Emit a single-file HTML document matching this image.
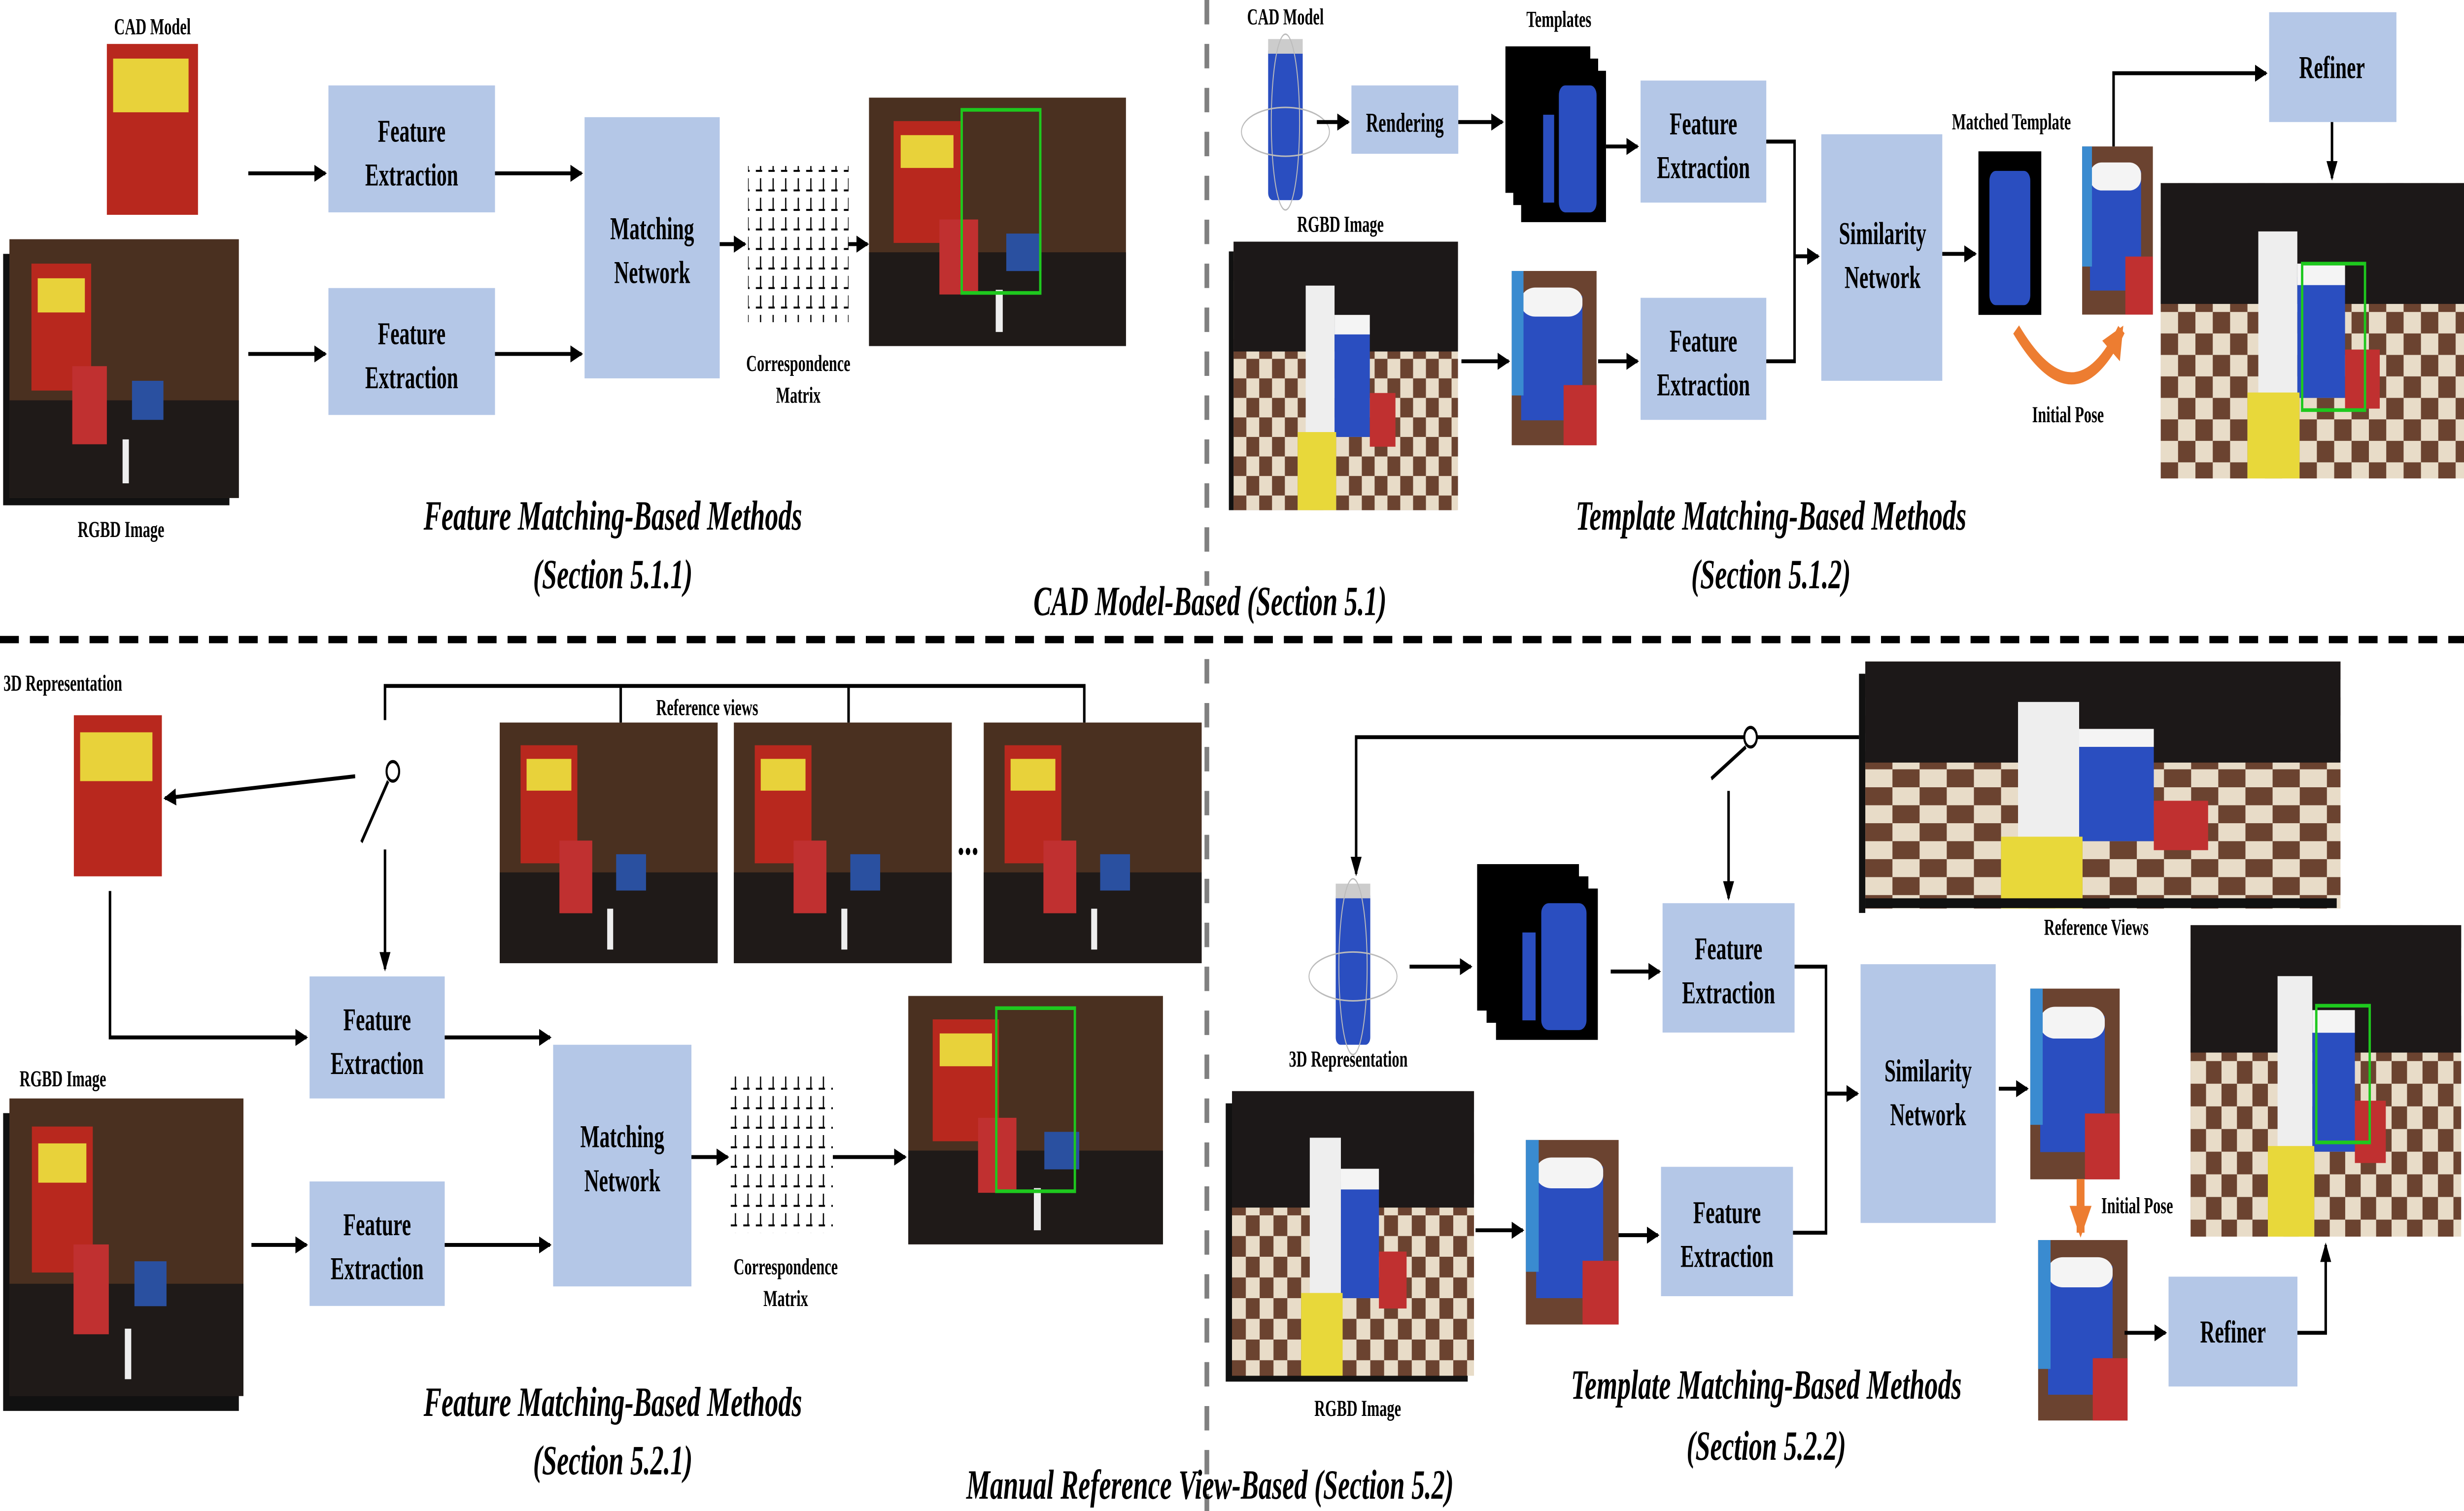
<!DOCTYPE html>
<html><head><meta charset="utf-8"><style>
html,body{margin:0;padding:0;background:#fff;width:100vw;height:100vh;overflow:hidden;}
svg{display:block;width:100vw;height:100vh}
text{font-family:"Liberation Serif",serif;font-weight:bold;fill:#000}
.b{fill:#b4c7e7}
.bt{font-size:13px;text-anchor:middle}
.lb{font-size:9.5px;text-anchor:middle}
.cap{font-size:17px;font-style:italic;text-anchor:middle}
.ln{stroke:#000;stroke-width:1.6;fill:none}
</style></head><body>
<svg viewBox="0 0 1568 619" preserveAspectRatio="none" xmlns="http://www.w3.org/2000/svg">
<defs>
<marker id="a" markerWidth="8" markerHeight="8" refX="7" refY="4" orient="auto" markerUnits="userSpaceOnUse"><path d="M0,0.5 L8,4 L0,7.5 Z" fill="#000"/></marker>
<marker id="o" markerWidth="14" markerHeight="14" refX="11" refY="7" orient="auto" markerUnits="userSpaceOnUse"><path d="M0,0 L13,7 L0,14 Z" fill="#ed7d31"/></marker>
<pattern id="chk" width="16" height="16" patternUnits="userSpaceOnUse"><rect width="16" height="16" fill="#6b4330"/><rect width="8" height="8" fill="#e8dcc8"/><rect x="8" y="8" width="8" height="8" fill="#e8dcc8"/></pattern>
<pattern id="grid" width="8" height="8" patternUnits="userSpaceOnUse"><path d="M4,1 V6 M1,6 H5" stroke="#000" stroke-width="0.8" fill="none"/></pattern>
<g id="scene">
<rect x="0" y="0" width="140" height="110" fill="url(#chk)"/><rect x="0" y="0" width="140" height="45" fill="#1c1818"/>
<rect x="45" y="18" width="18" height="62" fill="#eee"/><rect x="63" y="35" width="22" height="45" fill="#2a4ec0"/><rect x="63" y="30" width="22" height="8" fill="#f4f4f4"/><rect x="40" y="78" width="24" height="32" fill="#e8d83a"/><rect x="85" y="62" width="16" height="22" fill="#c03030"/>
</g>
<g id="cheez">
<rect x="0" y="0" width="146" height="106" fill="#4a3020"/><rect x="0" y="66" width="146" height="40" fill="#1f1a18"/>
<rect x="14" y="10" width="38" height="52" fill="#b8281e"/><rect x="18" y="16" width="30" height="14" fill="#e8d23a"/><rect x="40" y="52" width="22" height="32" fill="#c03030"/><rect x="78" y="58" width="20" height="16" fill="#2a50a0"/><rect x="72" y="82" width="4" height="18" fill="#eee"/>
</g>
<g id="can"><rect x="-11" y="-32" width="22" height="64" fill="#2a4ec0" rx="3"/><rect x="-11" y="-34" width="22" height="6" fill="#ccc"/><ellipse cx="0" cy="4" rx="28" ry="10" fill="none" stroke="#bbb" stroke-width="0.6"/><ellipse cx="0" cy="0" rx="9" ry="36" fill="none" stroke="#bbb" stroke-width="0.6"/></g>
<g id="tmpl"><rect x="0" y="0" width="54" height="60" fill="#000"/><rect x="5" y="5" width="54" height="60" fill="#000"/><rect x="10" y="10" width="54" height="62" fill="#000"/><rect x="34" y="16" width="24" height="52" fill="#2a4ec0" rx="4"/><rect x="24" y="28" width="7" height="36" fill="#2a4ec0"/></g>
<g id="crop"><rect x="0" y="0" width="36" height="84" fill="#6b4330"/><rect x="4" y="12" width="26" height="60" fill="#2a4ec0"/><rect x="4" y="8" width="26" height="14" fill="#f4f4f4" rx="6"/><rect x="22" y="55" width="14" height="29" fill="#c03030"/><rect x="0" y="0" width="5" height="60" fill="#3a8bd0"/></g>
</defs>

<line x1="768" y1="0" x2="768" y2="240" stroke="#808080" stroke-width="3" stroke-dasharray="10,8"/>
<line x1="768" y1="270" x2="768" y2="619" stroke="#808080" stroke-width="3" stroke-dasharray="10,8"/>
<line x1="0" y1="262" x2="1568" y2="262" stroke="#000" stroke-width="3" stroke-dasharray="12,7"/>

<!-- TOP LEFT -->
<text x="97" y="14" class="lb">CAD Model</text>
<rect x="68" y="18" width="58" height="70" fill="#b8281e"/><rect x="72" y="24" width="48" height="22" fill="#e8d23a"/>
<rect x="2" y="104" width="144" height="103" fill="#111"/>
<use href="#cheez" x="6" y="98"/>
<text x="77" y="220" class="lb">RGBD Image</text>
<line class="ln" x1="158" y1="71" x2="207" y2="71" marker-end="url(#a)"/>
<line class="ln" x1="158" y1="145" x2="207" y2="145" marker-end="url(#a)"/>
<rect class="b" x="209" y="35" width="106" height="52"/><text class="bt" x="262" y="58">Feature</text><text class="bt" x="262" y="76">Extraction</text>
<rect class="b" x="209" y="118" width="106" height="52"/><text class="bt" x="262" y="141">Feature</text><text class="bt" x="262" y="159">Extraction</text>
<line class="ln" x1="315" y1="71" x2="370" y2="71" marker-end="url(#a)"/>
<line class="ln" x1="315" y1="145" x2="370" y2="145" marker-end="url(#a)"/>
<rect class="b" x="372" y="48" width="86" height="107"/><text class="bt" x="415" y="98">Matching</text><text class="bt" x="415" y="116">Network</text>
<line class="ln" x1="458" y1="100" x2="474" y2="100" marker-end="url(#a)"/>
<rect x="476" y="68" width="64" height="64" fill="url(#grid)"/>
<text x="508" y="152" class="lb">Correspondence</text><text x="508" y="165" class="lb">Matrix</text>
<line class="ln" x1="540" y1="100" x2="552" y2="100" marker-end="url(#a)"/>
<use href="#cheez" transform="translate(553,40) scale(1.12,0.96)"/>
<rect x="612" y="45" width="50" height="75" fill="none" stroke="#1ec81e" stroke-width="1.5"/>
<text x="390" y="217" class="cap">Feature Matching-Based Methods</text>
<text x="390" y="241" class="cap">(Section 5.1.1)</text>
<text x="770" y="252" class="cap">CAD Model-Based (Section 5.1)</text>

<!-- TOP RIGHT -->
<text x="818" y="10" class="lb">CAD Model</text>
<use href="#can" x="818" y="50"/>
<line class="ln" x1="838" y1="50" x2="858" y2="50" marker-end="url(#a)"/>
<rect class="b" x="860" y="35" width="68" height="28"/><text class="bt" x="894" y="54" style="font-size:11px">Rendering</text>
<line class="ln" x1="928" y1="50" x2="956" y2="50" marker-end="url(#a)"/>
<use href="#tmpl" x="958" y="19"/>
<text x="992" y="11" class="lb">Templates</text>
<line class="ln" x1="1022" y1="60" x2="1042" y2="60" marker-end="url(#a)"/>
<rect class="b" x="1044" y="33" width="80" height="50"/><text class="bt" x="1084" y="55">Feature</text><text class="bt" x="1084" y="73">Extraction</text>
<text x="853" y="95" class="lb">RGBD Image</text>
<rect x="782" y="103" width="145" height="106" fill="#111"/>
<g transform="translate(785,99) scale(1.02,1.0)"><use href="#scene"/></g>
<line class="ln" x1="930" y1="148" x2="960" y2="148" marker-end="url(#a)"/>
<use href="#crop" transform="translate(962,111) scale(1.5,0.85)"/>
<line class="ln" x1="1017" y1="148" x2="1042" y2="148" marker-end="url(#a)"/>
<rect class="b" x="1044" y="122" width="80" height="50"/><text class="bt" x="1084" y="144">Feature</text><text class="bt" x="1084" y="162">Extraction</text>
<path class="ln" d="M1124,58 H1142 V148 H1124"/>
<line class="ln" x1="1142" y1="105" x2="1157" y2="105" marker-end="url(#a)"/>
<rect class="b" x="1159" y="55" width="77" height="101"/><text class="bt" x="1198" y="100">Similarity</text><text class="bt" x="1198" y="118">Network</text>
<line class="ln" x1="1236" y1="104" x2="1257" y2="104" marker-end="url(#a)"/>
<text x="1280" y="53" class="lb">Matched Template</text>
<rect x="1259" y="62" width="40" height="67" fill="#000"/><rect x="1266" y="70" width="26" height="55" fill="#2a4ec0" rx="4"/>
<use href="#crop" transform="translate(1325,60) scale(1.25,0.82)"/>
<path d="M1283,135 Q1320,175 1350,135" stroke="#ed7d31" stroke-width="5" fill="none" marker-end="url(#o)"/>
<text x="1316" y="173" class="lb">Initial Pose</text>
<path class="ln" d="M1345,60 V30 H1442" marker-end="url(#a)"/>
<rect class="b" x="1444" y="5" width="81" height="45"/><text class="bt" x="1484" y="32">Refiner</text>
<line class="ln" x1="1484" y1="50" x2="1484" y2="73" marker-end="url(#a)"/>
<g transform="translate(1375,75) scale(1.38,1.1)"><use href="#scene"/></g>
<rect x="1465" y="108" width="40" height="60" fill="none" stroke="#1ec81e" stroke-width="1.5"/>
<text x="1127" y="217" class="cap">Template Matching-Based Methods</text>
<text x="1127" y="241" class="cap">(Section 5.1.2)</text>

<!-- BOTTOM LEFT -->
<text x="40" y="283" class="lb">3D Representation</text>
<rect x="47" y="293" width="56" height="66" fill="#b8281e"/><rect x="51" y="300" width="46" height="20" fill="#e8d23a"/>
<path class="ln" d="M245,295 V281 H690 V296"/>
<line class="ln" x1="395" y1="281" x2="395" y2="296"/>
<line class="ln" x1="540" y1="281" x2="540" y2="296"/>
<line class="ln" x1="226" y1="318" x2="105" y2="327" marker-end="url(#a)"/>
<circle cx="250" cy="316" r="4" fill="#fff" stroke="#000" stroke-width="1.3"/>
<line class="ln" x1="247" y1="320" x2="230" y2="345"/>
<line class="ln" x1="245" y1="348" x2="245" y2="397" marker-end="url(#a)"/>
<path class="ln" d="M70,365 V425 H195" marker-end="url(#a)"/>
<text x="450" y="293" class="lb">Reference views</text>
<use href="#cheez" transform="translate(318,296) scale(0.95,0.93)"/>
<use href="#cheez" transform="translate(467,296) scale(0.95,0.93)"/>
<text x="616" y="350" class="bt" style="font-size:18px">...</text>
<use href="#cheez" transform="translate(626,296) scale(0.95,0.93)"/>
<rect class="b" x="197" y="400" width="86" height="50"/><text class="bt" x="240" y="422">Feature</text><text class="bt" x="240" y="440">Extraction</text>
<rect class="b" x="197" y="484" width="86" height="51"/><text class="bt" x="240" y="506">Feature</text><text class="bt" x="240" y="524">Extraction</text>
<text x="40" y="445" class="lb">RGBD Image</text>
<rect x="2" y="456" width="150" height="122" fill="#111"/>
<use href="#cheez" transform="translate(6,450) scale(1.02,1.15)"/>
<line class="ln" x1="160" y1="510" x2="195" y2="510" marker-end="url(#a)"/>
<line class="ln" x1="283" y1="425" x2="350" y2="425" marker-end="url(#a)"/>
<line class="ln" x1="283" y1="510" x2="350" y2="510" marker-end="url(#a)"/>
<rect class="b" x="352" y="428" width="88" height="99"/><text class="bt" x="396" y="470">Matching</text><text class="bt" x="396" y="488">Network</text>
<line class="ln" x1="440" y1="474" x2="463" y2="474" marker-end="url(#a)"/>
<rect x="465" y="440" width="65" height="65" fill="url(#grid)"/>
<text x="500" y="522" class="lb">Correspondence</text><text x="500" y="535" class="lb">Matrix</text>
<line class="ln" x1="530" y1="474" x2="576" y2="474" marker-end="url(#a)"/>
<use href="#cheez" transform="translate(578,408) scale(1.11,0.96)"/>
<rect x="634" y="413" width="50" height="75" fill="none" stroke="#1ec81e" stroke-width="1.5"/>
<text x="390" y="580" class="cap">Feature Matching-Based Methods</text>
<text x="390" y="604" class="cap">(Section 5.2.1)</text>
<text x="770" y="614" class="cap">Manual Reference View-Based (Section 5.2)</text>

<!-- BOTTOM RIGHT -->
<g transform="translate(1187,271) scale(2.16,0.92)"><use href="#scene"/></g>
<rect x="1183" y="276" width="4" height="98" fill="#111"/>
<rect x="1187" y="368" width="300" height="4" fill="#111"/>
<text x="1334" y="383" class="lb">Reference Views</text>
<path class="ln" d="M1118,302 H1183"/>
<path class="ln" d="M1110,302 H863 V358" marker-end="url(#a)"/>
<circle cx="1114" cy="302" r="4" fill="#fff" stroke="#000" stroke-width="1.3"/>
<line class="ln" x1="1111" y1="306" x2="1089" y2="319"/>
<line class="ln" x1="1100" y1="324" x2="1100" y2="368" marker-end="url(#a)"/>
<use href="#can" x="861" y="396"/>
<text x="858" y="437" class="lb">3D Representation</text>
<line class="ln" x1="897" y1="396" x2="936" y2="396" marker-end="url(#a)"/>
<use href="#tmpl" transform="translate(940,354) scale(1.2,1.0)"/>
<line class="ln" x1="1025" y1="398" x2="1056" y2="398" marker-end="url(#a)"/>
<rect class="b" x="1058" y="370" width="84" height="53"/><text class="bt" x="1100" y="393">Feature</text><text class="bt" x="1100" y="411">Extraction</text>
<rect x="780" y="452" width="154" height="114" fill="#111"/>
<g transform="translate(784,447) scale(1.1,1.06)"><use href="#scene"/></g>
<text x="864" y="580" class="lb">RGBD Image</text>
<line class="ln" x1="939" y1="504" x2="969" y2="504" marker-end="url(#a)"/>
<use href="#crop" transform="translate(971,467) scale(1.64,0.9)"/>
<line class="ln" x1="1030" y1="506" x2="1055" y2="506" marker-end="url(#a)"/>
<rect class="b" x="1057" y="478" width="84" height="53"/><text class="bt" x="1099" y="501">Feature</text><text class="bt" x="1099" y="519">Extraction</text>
<path class="ln" d="M1142,396 H1162 V505 H1141"/>
<line class="ln" x1="1162" y1="448" x2="1182" y2="448" marker-end="url(#a)"/>
<rect class="b" x="1184" y="395" width="86" height="106"/><text class="bt" x="1227" y="443">Similarity</text><text class="bt" x="1227" y="461">Network</text>
<line class="ln" x1="1272" y1="446" x2="1290" y2="446" marker-end="url(#a)"/>
<use href="#crop" transform="translate(1292,405) scale(1.58,0.93)"/>
<line x1="1324" y1="483" x2="1324" y2="505" stroke="#ed7d31" stroke-width="5" marker-end="url(#o)"/>
<text x="1360" y="497" class="lb">Initial Pose</text>
<use href="#crop" transform="translate(1297,508) scale(1.58,0.88)"/>
<line class="ln" x1="1352" y1="546" x2="1378" y2="546" marker-end="url(#a)"/>
<rect class="b" x="1380" y="523" width="82" height="45"/><text class="bt" x="1421" y="550">Refiner</text>
<path class="ln" d="M1462,546 H1480 V510" marker-end="url(#a)"/>
<g transform="translate(1394,379) scale(1.23,1.16)"><use href="#scene"/></g>
<rect x="1474" y="412" width="34" height="56" fill="none" stroke="#1ec81e" stroke-width="1.5"/>
<text x="1124" y="573" class="cap">Template Matching-Based Methods</text>
<text x="1124" y="598" class="cap">(Section 5.2.2)</text>
</svg>
</body></html>
